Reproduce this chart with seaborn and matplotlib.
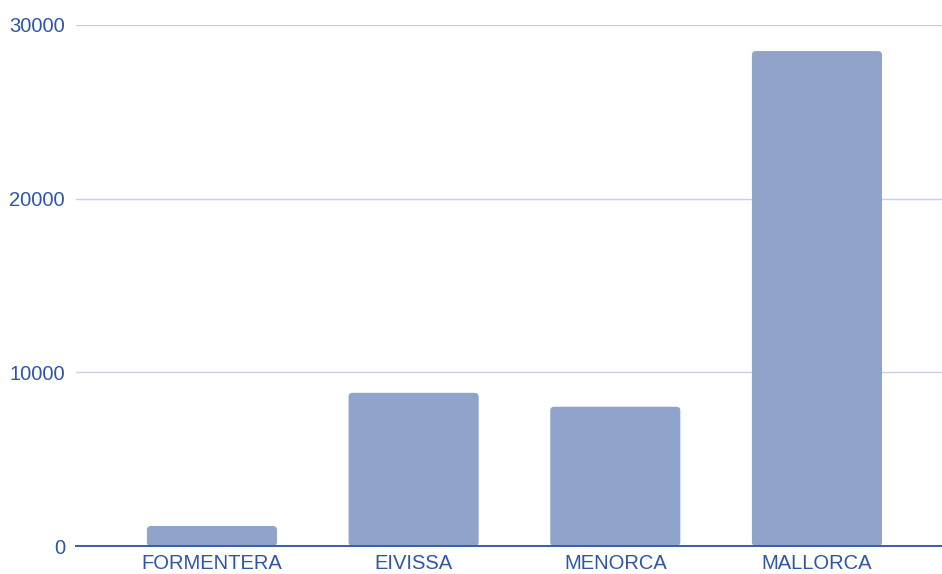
import matplotlib
matplotlib.use("Agg")
import matplotlib.pyplot as plt
from matplotlib.patches import FancyBboxPatch
import seaborn as sns
import pandas as pd

# island totals
islands = ["FORMENTERA", "EIVISSA", "MENORCA", "MALLORCA"]
values = [1150, 8820, 8020, 28500]
yticks = [0, 10000, 20000, 30000]

bar_color = "#8fa3cb"
text_color = "#2f56a6"
grid_color = "#cbcfe6"

sns.set_theme(style="white")
plt.rcParams["font.family"] = ["Liberation Sans", "DejaVu Sans"]

df = pd.DataFrame({"island": islands, "value": values})

fig = plt.figure(figsize=(9.42, 5.74), dpi=100)
ax = fig.add_axes([76 / 942, 28 / 574, 1 - 76 / 942, (546 - 25) / 574])

sns.barplot(data=df, x="island", y="value", color=bar_color, saturation=1,
            width=0.645, ax=ax, zorder=3)

# swap plain rectangles for ones with slightly rounded corners
for p in list(ax.patches):
    x, y = p.get_x(), p.get_y()
    w, h = p.get_width(), p.get_height()
    p.remove()
    ax.add_patch(FancyBboxPatch((x, y), w, h,
                                boxstyle="round,pad=0,rounding_size=0.02",
                                mutation_aspect=11500, fc=bar_color, ec="none",
                                zorder=3))

ax.set_xlim(-0.674, 3.62)
ax.set_ylim(0, 30000)
ax.set_yticks(yticks)
ax.set_yticklabels([str(t) for t in yticks])

ax.grid(axis="y", color=grid_color, linewidth=1)
ax.set_axisbelow(True)
for s in ax.spines.values():
    s.set_visible(False)
ax.spines["bottom"].set_visible(True)
ax.spines["bottom"].set_color("#3a5ca9")
ax.spines["bottom"].set_linewidth(1.4)
ax.spines["bottom"].set_zorder(5)

ax.tick_params(axis="both", length=0, labelsize=14.5, labelcolor=text_color)
ax.tick_params(axis="y", pad=8)
ax.tick_params(axis="x", pad=6)
ax.set_xlabel("")
ax.set_ylabel("")

fig.savefig("out.png", dpi=100)
